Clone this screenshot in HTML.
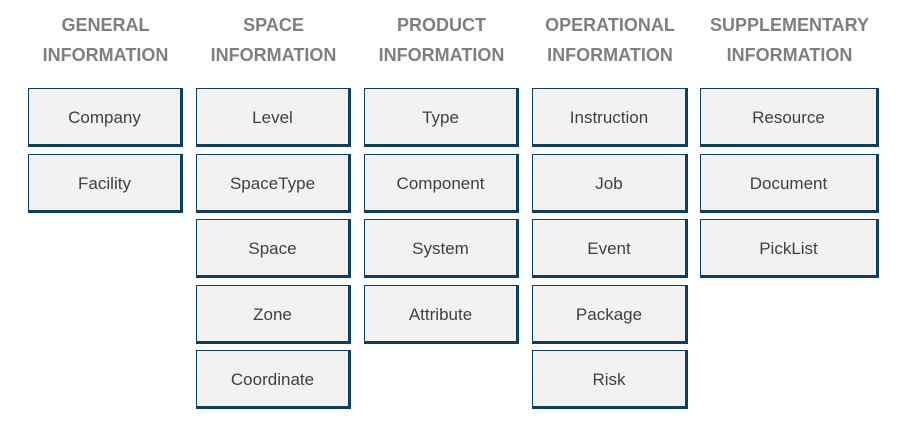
<!DOCTYPE html>
<html><head><style>
body{margin:0;width:913px;height:428px;background:#fff;position:relative;overflow:hidden;font-family:"Liberation Sans",sans-serif}
.h{position:absolute;top:10px;text-align:center;font-weight:bold;color:#7f7f7f;font-size:18px;line-height:30px}
.b{position:absolute;box-sizing:border-box;background:#f2f2f2;border:1px solid #0e3f5f;border-right:3px solid #0e3f5f;border-bottom:3px solid #0e3f5f;display:flex;align-items:center;justify-content:center;color:#404040;font-size:17px;height:59px;padding-top:3px}
</style></head><body>
<div class="h" style="left:28px;width:155px">GENERAL<br>INFORMATION</div>
<div class="h" style="left:196px;width:155px">SPACE<br>INFORMATION</div>
<div class="h" style="left:364px;width:155px">PRODUCT<br>INFORMATION</div>
<div class="h" style="left:532px;width:156px">OPERATIONAL<br>INFORMATION</div>
<div class="h" style="left:700px;width:179px">SUPPLEMENTARY<br>INFORMATION</div>

<div class="b" style="left:28px;top:88px;width:155px">Company</div>
<div class="b" style="left:28px;top:154px;width:155px">Facility</div>

<div class="b" style="left:196px;top:88px;width:155px">Level</div>
<div class="b" style="left:196px;top:154px;width:155px">SpaceType</div>
<div class="b" style="left:196px;top:219px;width:155px">Space</div>
<div class="b" style="left:196px;top:285px;width:155px">Zone</div>
<div class="b" style="left:196px;top:350px;width:155px">Coordinate</div>

<div class="b" style="left:364px;top:88px;width:155px">Type</div>
<div class="b" style="left:364px;top:154px;width:155px">Component</div>
<div class="b" style="left:364px;top:219px;width:155px">System</div>
<div class="b" style="left:364px;top:285px;width:155px">Attribute</div>

<div class="b" style="left:532px;top:88px;width:156px">Instruction</div>
<div class="b" style="left:532px;top:154px;width:156px">Job</div>
<div class="b" style="left:532px;top:219px;width:156px">Event</div>
<div class="b" style="left:532px;top:285px;width:156px">Package</div>
<div class="b" style="left:532px;top:350px;width:156px">Risk</div>

<div class="b" style="left:700px;top:88px;width:179px">Resource</div>
<div class="b" style="left:700px;top:154px;width:179px">Document</div>
<div class="b" style="left:700px;top:219px;width:179px">PickList</div>
</body></html>
